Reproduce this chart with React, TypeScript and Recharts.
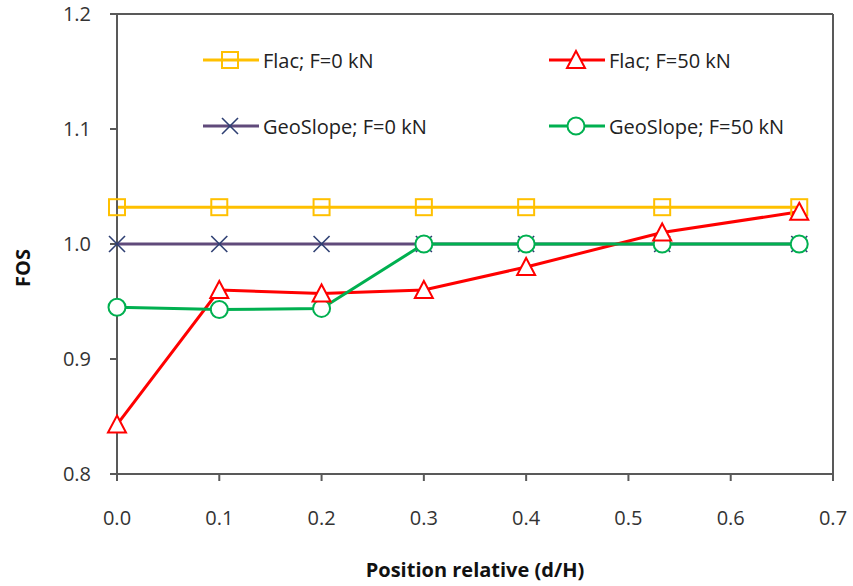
import { LineChart, Line, XAxis, YAxis, ReferenceLine } from "recharts";

const positions = [0, 0.1, 0.2, 0.3, 0.4, 0.533, 0.667];
const flacF0 = [1.032, 1.032, 1.032, 1.032, 1.032, 1.032, 1.032];
const flacF50 = [0.843, 0.96, 0.957, 0.96, 0.98, 1.01, 1.028];
const geoF0 = [1.0, 1.0, 1.0, 1.0, 1.0, 1.0, 1.0];
const geoF50 = [0.945, 0.943, 0.944, 1.0, 1.0, 1.0, 1.0];

const xTicks = [0, 0.1, 0.2, 0.3, 0.4, 0.5, 0.6, 0.7];
const yTicks = [0.8, 0.9, 1.0, 1.1, 1.2];

const YELLOW = "#FFC000";
const RED = "#FF0000";
const PURPLE = "#604A7B";
const NAVY = "#2E3F73";
const GREEN = "#00B050";
const AXIS = "#595959";
const FONT = "'Open Sans', sans-serif";

const rows = positions.map((x, i) => ({
  x,
  flac0: flacF0[i],
  flac50: flacF50[i],
  geo0: geoF0[i],
  geo50: geoF50[i],
}));

function Square({ cx, cy }: { cx: number; cy: number }) {
  return <rect x={cx - 8} y={cy - 8} width={16} height={16} fill="none" stroke={YELLOW} strokeWidth={2} />;
}

function Triangle({ cx, cy }: { cx: number; cy: number }) {
  return (
    <polygon
      points={`${cx},${cy - 9} ${cx + 9},${cy + 8} ${cx - 9},${cy + 8}`}
      fill="#fff"
      stroke={RED}
      strokeWidth={2}
    />
  );
}

function Cross({ cx, cy }: { cx: number; cy: number }) {
  return (
    <g stroke={NAVY} strokeWidth={1.6}>
      <line x1={cx - 8} y1={cy - 8} x2={cx + 8} y2={cy + 8} />
      <line x1={cx - 8} y1={cy + 8} x2={cx + 8} y2={cy - 8} />
    </g>
  );
}

function Circle({ cx, cy }: { cx: number; cy: number }) {
  return <circle cx={cx} cy={cy} r={8.5} fill="#fff" stroke={GREEN} strokeWidth={2} />;
}

const dotOf = (Shape: (p: { cx: number; cy: number }) => JSX.Element) => (props: any) => (
  <g key={`d-${props.index}`}>{props.cx != null && <Shape cx={props.cx} cy={props.cy} />}</g>
);

const legendItems = [
  { name: "Flac; F=0 kN", color: YELLOW, Shape: Square, left: 203, top: 60 },
  { name: "Flac; F=50 kN", color: RED, Shape: Triangle, left: 549, top: 60 },
  { name: "GeoSlope; F=0 kN", color: PURPLE, Shape: Cross, left: 203, top: 126 },
  { name: "GeoSlope; F=50 kN", color: GREEN, Shape: Circle, left: 549, top: 126 },
];

function LegendBox() {
  return (
    <>
      {legendItems.map((it) => (
        <div
          key={it.name}
          style={{
            position: "absolute",
            left: it.left,
            top: it.top - 15,
            height: 30,
            display: "flex",
            alignItems: "center",
            fontFamily: FONT,
            fontSize: 20,
            color: "#222",
            whiteSpace: "nowrap",
          }}
        >
          <svg width={56} height={30} style={{ marginRight: 4 }}>
            <line x1={0} y1={15} x2={56} y2={15} stroke={it.color} strokeWidth={3} />
            <it.Shape cx={27} cy={15} />
          </svg>
          {it.name}
        </div>
      ))}
    </>
  );
}

export default function App() {
  const fmt = (v: number) => v.toFixed(1);
  return (
    <div style={{ position: "absolute", left: 0, top: 0, width: 853, height: 586, background: "#fff" }}>
      <LineChart width={853} height={586} data={rows} margin={{ top: 14, right: 20, bottom: 0, left: 0 }}>
        <XAxis
          dataKey="x"
          type="number"
          domain={[0, 0.7]}
          ticks={xTicks}
          tickFormatter={fmt}
          height={112}
          stroke={AXIS}
          strokeWidth={2}
          tickSize={7}
          tickMargin={30}
          tick={{ fill: "#333", fontSize: 20, fontFamily: FONT }}
          label={{
            value: "Position relative (d/H)",
            position: "insideBottom",
            offset: 9,
            fill: "#111",
            fontSize: 20,
            fontWeight: 700,
            fontFamily: FONT,
          }}
        />
        <YAxis
          type="number"
          domain={[0.8, 1.2]}
          ticks={yTicks}
          tickFormatter={fmt}
          width={117}
          stroke={AXIS}
          strokeWidth={2}
          tickSize={7}
          tickMargin={19}
          tick={{ fill: "#333", fontSize: 20, fontFamily: FONT }}
          label={{
            content: () => (
              <text
                x={22}
                y={268}
                transform="rotate(-90 22 268)"
                textAnchor="middle"
                dominantBaseline="central"
                fontFamily={FONT}
                fontSize={20}
                fontWeight={700}
                fill="#111"
              >
                FOS
              </text>
            ),
          }}
        />
        <ReferenceLine y={1.2} stroke={AXIS} strokeWidth={2} />
        <ReferenceLine x={0.7} stroke={AXIS} strokeWidth={2} />

        <Line dataKey="flac0" stroke={YELLOW} strokeWidth={3} dot={false} activeDot={false} isAnimationActive={false} />
        <Line dataKey="geo0" stroke={PURPLE} strokeWidth={3} dot={false} activeDot={false} isAnimationActive={false} />
        <Line dataKey="flac50" stroke={RED} strokeWidth={3} dot={false} activeDot={false} isAnimationActive={false} />
        <Line dataKey="geo50" stroke={GREEN} strokeWidth={3} dot={false} activeDot={false} isAnimationActive={false} />

        <Line dataKey="flac0" stroke="none" dot={dotOf(Square)} activeDot={false} isAnimationActive={false} />
        <Line dataKey="geo0" stroke="none" dot={dotOf(Cross)} activeDot={false} isAnimationActive={false} />
        <Line dataKey="geo50" stroke="none" dot={dotOf(Circle)} activeDot={false} isAnimationActive={false} />
        <Line dataKey="flac50" stroke="none" dot={dotOf(Triangle)} activeDot={false} isAnimationActive={false} />
      </LineChart>
      <LegendBox />
    </div>
  );
}
